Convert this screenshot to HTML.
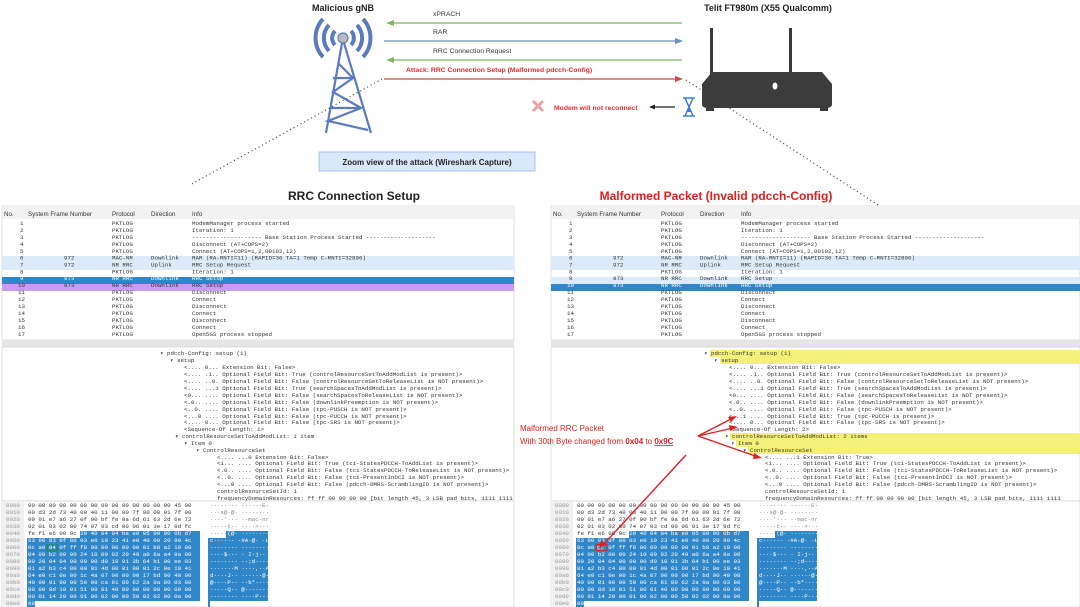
<!DOCTYPE html>
<html><head><meta charset="utf-8"><style>
html,body{margin:0;padding:0;background:#fff;width:1080px;height:607px;overflow:hidden}
svg{display:block}
.m{font-family:"Liberation Mono",monospace;font-size:5.8px;fill:#333}
.s{font-family:"Liberation Sans",sans-serif;font-size:6.2px;fill:#333}
</style></head><body>
<svg width="1080" height="607" viewBox="0 0 1080 607" xmlns="http://www.w3.org/2000/svg">
<defs>
<g id="hdr">
 <text class="s" x="4" y="216">No.</text>
 <text class="s" x="28" y="216">System Frame Number</text>
 <text class="s" x="112" y="216">Protocol</text>
 <text class="s" x="151" y="216">Direction</text>
 <text class="s" x="192" y="216">Info</text>
</g>
<g id="rows">
 <g class="m">
 <text x="20" y="225">1</text><text x="112" y="225">PKTLOG</text><text x="192" y="225">ModemManager process started</text>
 <text x="20" y="232">2</text><text x="112" y="232">PKTLOG</text><text x="192" y="232">Iteration: 1</text>
 <text x="20" y="239">3</text><text x="112" y="239">PKTLOG</text><text x="192" y="239">-------------------- Base Station Process Started --------------------</text>
 <text x="20" y="246">4</text><text x="112" y="246">PKTLOG</text><text x="192" y="246">Disconnect (AT+COPS=2)</text>
 <text x="20" y="253">5</text><text x="112" y="253">PKTLOG</text><text x="192" y="253">Connect (AT+COPS=1,2,00102,12)</text>
 <text x="20" y="259.5">6</text><text x="64" y="259.5">972</text><text x="112" y="259.5">MAC-NR</text><text x="151" y="259.5">Downlink</text><text x="192" y="259.5">RAR (RA-RNTI=11) (RAPID=36 TA=1 Temp C-RNTI=32896)</text>
 <text x="20" y="266.5">7</text><text x="64" y="266.5">972</text><text x="112" y="266.5">NR RRC</text><text x="151" y="266.5">Uplink</text><text x="192" y="266.5">RRC Setup Request</text>
 <text x="20" y="273.3">8</text><text x="112" y="273.3">PKTLOG</text><text x="192" y="273.3">Iteration: 1</text>
 <text x="18" y="294">11</text><text x="112" y="294">PKTLOG</text><text x="192" y="294">Disconnect</text>
 <text x="18" y="301">12</text><text x="112" y="301">PKTLOG</text><text x="192" y="301">Connect</text>
 <text x="18" y="308">13</text><text x="112" y="308">PKTLOG</text><text x="192" y="308">Disconnect</text>
 <text x="18" y="315">14</text><text x="112" y="315">PKTLOG</text><text x="192" y="315">Connect</text>
 <text x="18" y="322">15</text><text x="112" y="322">PKTLOG</text><text x="192" y="322">Disconnect</text>
 <text x="18" y="329">16</text><text x="112" y="329">PKTLOG</text><text x="192" y="329">Connect</text>
 <text x="18" y="336">17</text><text x="112" y="336">PKTLOG</text><text x="192" y="336">Open5GS process stopped</text>
 </g>
</g>
<g id="hex">
 <g class="m" style="fill:#999"><text x="6" y="507">0000</text><text x="6" y="514">0010</text><text x="6" y="521">0020</text><text x="6" y="528">0030</text><text x="6" y="535">0040</text><text x="6" y="542">0050</text><text x="6" y="549">0060</text><text x="6" y="556">0070</text><text x="6" y="563">0080</text><text x="6" y="570">0090</text><text x="6" y="577">00a0</text><text x="6" y="584">00b0</text><text x="6" y="591">00c0</text><text x="6" y="598">00d0</text><text x="6" y="605">00e0</text></g>
 <path d="M80 531 H200 V601 H35 V608 H27 V538 H80 Z" fill="#2f86c8"/>
 <path d="M226 531 H268 V601 H210 V608 H208 V538 H226 Z" fill="#2f86c8"/>
 <g class="m" xml:space="preserve">
 <text x="28" y="507">00 00 00 00 00 00 00 00  00 00 00 00 00 00 45 00</text>
 <text x="28" y="514">00 d3 2d 73 40 00 40 11  00 00 7f 00 00 01 7f 00</text>
 <text x="28" y="521">00 01 e7 a6 27 0f 00 bf  fe 9a 6d 61 63 2d 6e 72</text>
 <text x="28" y="528">02 01 03 02 00 74 07 03  cd 00 06 01 3e 17 9d fc</text>
 <text x="28" y="535">fe f1 e6 00 9c <tspan style="fill:#fff">20 40 04  04 ba e0 05 00 00 0b d7</tspan></text>
 </g>
 <g class="m" xml:space="preserve" style="fill:#fff">
 <text x="28" y="542">63 00 83 0f 80 03 e0 10  23 41 e0 40 00 20 90 4c</text>
 <text x="28" y="549">0c a0 04 0f ff f8 00 00  00 00 00 01 b8 a2 10 00</text>
 <text x="28" y="556">04 00 b2 00 00 24 10 00  02 20 49 a0 6a a4 9a 00</text>
 <text x="28" y="563">00 20 04 04 00 00 00 d0  10 01 3b 64 b1 00 ee 03</text>
 <text x="28" y="570">01 a2 b3 c4 80 00 01 4d  00 01 00 01 2c 0e 10 41</text>
 <text x="28" y="577">64 e0 c1 0e 00 1c 4a 07  00 00 00 17 bd 00 40 00</text>
 <text x="28" y="584">40 00 01 90 00 50 00 ca  81 80 62 2a 0a 80 03 80</text>
 <text x="28" y="591">00 00 8d 10 01 51 00 01  40 00 00 00 00 00 00 00</text>
 <text x="28" y="598">00 01 14 20 00 01 00 02  00 00 50 02 02 00 0a 90</text>
 <text x="28" y="605">00</text>
 <text x="210" y="542">c······ ·#A·@· ·L</text>
 <text x="210" y="549">········ ········</text>
 <text x="210" y="556">····$··· · I·j··</text>
 <text x="210" y="563">········ ··;d····</text>
 <text x="210" y="570">·······M ····,··A</text>
 <text x="210" y="577">d····J·· ······@·</text>
 <text x="210" y="584">@····P·· ··b*····</text>
 <text x="210" y="591">·····Q·· @·······</text>
 <text x="210" y="598">········ ····P···</text>
 </g>
 <g class="m" xml:space="preserve" style="fill:#888">
 <text x="210" y="507">········ ······E·</text>
 <text x="210" y="514">···s@·@· ········</text>
 <text x="210" y="521">····'··· ··mac-nr</text>
 <text x="210" y="528">·····t·· ····&gt;···</text>
 <text x="210" y="535">·····<tspan style="fill:#fff">(@· ········</tspan></text>
 </g>
</g>
</defs>

<!-- top diagram -->
<text x="343" y="11" text-anchor="middle" font-family="Liberation Sans" font-weight="bold" font-size="9" fill="#222">Malicious gNB</text>
<text x="768" y="11" text-anchor="middle" font-family="Liberation Sans" font-weight="bold" font-size="9" fill="#222">Telit FT980m (X55 Qualcomm)</text>
<g fill="none" stroke="#5b7bbd" stroke-width="4">
 <path d="M335 31 A10 10 0 0 0 335 45"/><path d="M351 31 A10 10 0 0 1 351 45"/>
 <path d="M329 25 A19 19 0 0 0 329 51"/><path d="M357 25 A19 19 0 0 1 357 51"/>
 <path d="M323 19 A28 28 0 0 0 323 57"/><path d="M363 19 A28 28 0 0 1 363 57"/>
</g>
<circle cx="343" cy="38" r="5" fill="#bbb" stroke="#5b7bbd" stroke-width="1.2"/>
<g fill="none" stroke="#5b7bbd" stroke-width="2.2">
 <path d="M342 43 L326 133 M344 43 L371 133"/>
 <path d="M338 63 L353 78 L333 92 L361 108 L328 121 L368 130"/>
 <path d="M353 78 L333 78 M361 108 L330 108"/>
</g>
<g>
 <rect x="710" y="28" width="3" height="46" fill="#3a3a3a"/>
 <rect x="789" y="28" width="3" height="46" fill="#3a3a3a"/>
 <path d="M712 72 H822 L832 84 V104 Q832 108 826 108 H708 Q702 108 702 104 V84 Z" fill="#3c3c3c"/>
 <rect x="706" y="106" width="8" height="5" fill="#3c3c3c"/><rect x="820" y="106" width="8" height="5" fill="#3c3c3c"/>
 <ellipse cx="775" cy="86" rx="2.5" ry="3.5" fill="#fff"/>
</g>
<g font-family="Liberation Sans" font-size="6.8" fill="#333">
 <text x="433" y="16">xPRACH</text><text x="433" y="34">RAR</text><text x="433" y="53">RRC Connection Request</text>
</g>
<text x="406" y="72" font-family="Liberation Sans" font-weight="bold" font-size="6.8" fill="#e03030">Attack: RRC Connection Setup (Malformed pdcch-Config)</text>
<g stroke-width="1.2">
 <line x1="390" y1="23" x2="682" y2="23" stroke="#82b366"/><path d="M386 23 L394 20 L394 26 Z" fill="#82b366"/>
 <line x1="384" y1="41" x2="678" y2="41" stroke="#6c8ebf"/><path d="M683 41 L675 38 L675 44 Z" fill="#6c8ebf"/>
 <line x1="390" y1="60" x2="682" y2="60" stroke="#82b366"/><path d="M386 60 L394 57 L394 63 Z" fill="#82b366"/>
 <line x1="384" y1="79" x2="678" y2="79" stroke="#c84b4b"/><path d="M683 79 L675 76 L675 82 Z" fill="#c84b4b"/>
</g>
<path d="M533 101 L543 111 M543 101 L533 111" stroke="#f0a0a0" stroke-width="3"/>
<text x="554" y="110" font-family="Liberation Sans" font-weight="bold" font-size="6.8" fill="#e03030">Modem will not reconnect</text>
<line x1="652" y1="107" x2="675" y2="107" stroke="#222" stroke-width="1.2"/><path d="M649 107 L655 104.5 L655 109.5 Z" fill="#222"/>
<g fill="none" stroke="#3b7bd8" stroke-width="1.5"><path d="M683 98 H695 M683 116 H695 M685 98 L693 116 M693 98 L685 116"/></g>
<path d="M686 112 L692 112 L689 107 Z" fill="#3b7bd8"/>
<rect x="319" y="152" width="216" height="19" fill="#dae8fc" stroke="#9fb6dc" stroke-width="0.8"/>
<text x="427" y="165" text-anchor="middle" font-family="Liberation Sans" font-weight="bold" font-size="8" fill="#222">Zoom view of the attack (Wireshark Capture)</text>
<g stroke="#444" stroke-width="1.2" stroke-dasharray="1 3">
 <line x1="382" y1="79" x2="190" y2="185"/>
 <line x1="686" y1="80" x2="878" y2="205"/>
</g>
<text x="354" y="200" text-anchor="middle" font-family="Liberation Sans" font-weight="bold" font-size="12" fill="#222">RRC Connection Setup</text>
<text x="716" y="200" text-anchor="middle" font-family="Liberation Sans" font-weight="bold" font-size="12" fill="#e02020">Malformed Packet (Invalid pdcch-Config)</text>

<!-- LEFT panel -->
<rect x="2" y="206" width="512" height="134" fill="#fff" stroke="#ccc" stroke-width="0.6"/>
<rect x="2" y="207" width="512" height="12" fill="#f2f2f2"/>
<rect x="2" y="340" width="512" height="7" fill="#e6e6e6"/>
<rect x="2" y="347" width="512" height="154" fill="#fff" stroke="#ccc" stroke-width="0.6"/>
<rect x="2" y="501" width="512" height="106" fill="#fff" stroke="#ccc" stroke-width="0.6"/>
<rect x="2" y="501" width="22" height="106" fill="#f0f0f0"/>
<use href="#hdr"/>
<rect x="2" y="256" width="512" height="14" fill="#dcebf9"/>
<rect x="2" y="277" width="512" height="7" fill="#2f86c8"/>
<rect x="2" y="284" width="512" height="7" fill="#c79cf2"/>
<use href="#rows"/>
<g class="m">
 <text x="20" y="280.2" style="fill:#fff">9</text><text x="64" y="280.2" style="fill:#fff">973</text><text x="112" y="280.2" style="fill:#fff">NR RRC</text><text x="151" y="280.2" style="fill:#fff">Downlink</text><text x="192" y="280.2" style="fill:#fff">RRC Setup</text>
 <text x="18" y="287.1">10</text><text x="64" y="287.1">973</text><text x="112" y="287.1">NR RRC</text><text x="151" y="287.1">Downlink</text><text x="192" y="287.1">RRC Setup</text>
</g>
<g class="m">
 <text x="160" y="355">▾ pdcch-Config: setup (1)</text>
 <text x="170" y="362">▾ setup</text>
 <text x="184" y="369">&lt;.... 0... Extension Bit: False&gt;</text>
 <text x="184" y="376">&lt;.... .1.. Optional Field Bit: True (controlResourceSetToAddModList is present)&gt;</text>
 <text x="184" y="383">&lt;.... ..0. Optional Field Bit: False (controlResourceSetToReleaseList is NOT present)&gt;</text>
 <text x="184" y="390">&lt;.... ...1 Optional Field Bit: True (searchSpacesToAddModList is present)&gt;</text>
 <text x="184" y="397">&lt;0... .... Optional Field Bit: False (searchSpacesToReleaseList is NOT present)&gt;</text>
 <text x="184" y="404">&lt;.0.. .... Optional Field Bit: False (downlinkPreemption is NOT present)&gt;</text>
 <text x="184" y="411">&lt;..0. .... Optional Field Bit: False (tpc-PUSCH is NOT present)&gt;</text>
 <text x="184" y="418">&lt;...0 .... Optional Field Bit: False (tpc-PUCCH is NOT present)&gt;</text>
 <text x="184" y="424">&lt;.... 0... Optional Field Bit: False (tpc-SRS is NOT present)&gt;</text>
 <text x="184" y="431">&lt;Sequence-Of Length: 1&gt;</text>
 <text x="175" y="438">▾ controlResourceSetToAddModList: 1 item</text>
 <text x="184" y="445">▾ Item 0</text>
 <text x="196" y="452">▾ ControlResourceSet</text>
 <text x="217" y="459">&lt;.... ...0 Extension Bit: False&gt;</text>
 <text x="217" y="465">&lt;1... .... Optional Field Bit: True (tci-StatesPDCCH-ToAddList is present)&gt;</text>
 <text x="217" y="472">&lt;.0.. .... Optional Field Bit: False (tci-StatesPDCCH-ToReleaseList is NOT present)&gt;</text>
 <text x="217" y="479">&lt;..0. .... Optional Field Bit: False (tci-PresentInDCI is NOT present)&gt;</text>
 <text x="217" y="486">&lt;...0 .... Optional Field Bit: False (pdcch-DMRS-ScramblingID is NOT present)&gt;</text>
 <text x="217" y="493">controlResourceSetId: 1</text>
 <text x="217" y="500">frequencyDomainResources: ff ff 00 00 00 00 [bit length 45, 3 LSB pad bits, 1111 1111</text>
</g>
<use href="#hex"/>
<rect x="47" y="545" width="10" height="6" fill="none" stroke="#1c8a2c" stroke-width="1"/>

<!-- RIGHT panel -->
<g transform="translate(549,0)">
 <rect x="2" y="206" width="529" height="134" fill="#fff" stroke="#ccc" stroke-width="0.6"/>
 <rect x="2" y="207" width="529" height="12" fill="#f2f2f2"/>
 <rect x="2" y="340" width="529" height="7" fill="#e6e6e6"/>
 <rect x="2" y="347" width="529" height="154" fill="#fff" stroke="#ccc" stroke-width="0.6"/>
 <rect x="2" y="501" width="529" height="106" fill="#fff" stroke="#ccc" stroke-width="0.6"/>
 <rect x="2" y="501" width="22" height="106" fill="#f0f0f0"/>
 <use href="#hdr"/>
 <rect x="2" y="256" width="529" height="14" fill="#dcebf9"/>
 <rect x="2" y="277" width="529" height="7" fill="#dcebf9"/>
 <rect x="2" y="284" width="529" height="7" fill="#2f86c8"/>
 <use href="#rows"/>
 <g class="m">
  <text x="20" y="280.2">9</text><text x="64" y="280.2">973</text><text x="112" y="280.2">NR RRC</text><text x="151" y="280.2">Downlink</text><text x="192" y="280.2">RRC Setup</text>
  <text x="18" y="287.1" style="fill:#fff">10</text><text x="64" y="287.1" style="fill:#fff">973</text><text x="112" y="287.1" style="fill:#fff">NR RRC</text><text x="151" y="287.1" style="fill:#fff">Downlink</text><text x="192" y="287.1" style="fill:#fff">RRC Setup</text>
 </g>
 <rect x="161" y="350" width="370" height="7" fill="#f5f07a"/>
 <rect x="171" y="357" width="360" height="7" fill="#f5f07a"/>
 <rect x="181" y="433" width="350" height="7" fill="#f5f07a"/>
 <rect x="187" y="440" width="344" height="7" fill="#f5f07a"/>
 <rect x="199" y="447" width="332" height="7" fill="#f5f07a"/>
 <g class="m">
 <text x="155" y="355">▾ pdcch-Config: setup (1)</text>
 <text x="165" y="362">▾ setup</text>
 <text x="180" y="369">&lt;.... 0... Extension Bit: False&gt;</text>
 <text x="180" y="376">&lt;.... .1.. Optional Field Bit: True (controlResourceSetToAddModList is present)&gt;</text>
 <text x="180" y="383">&lt;.... ..0. Optional Field Bit: False (controlResourceSetToReleaseList is NOT present)&gt;</text>
 <text x="180" y="390">&lt;.... ...1 Optional Field Bit: True (searchSpacesToAddModList is present)&gt;</text>
 <text x="180" y="397">&lt;0... .... Optional Field Bit: False (searchSpacesToReleaseList is NOT present)&gt;</text>
 <text x="180" y="404">&lt;.0.. .... Optional Field Bit: False (downlinkPreemption is NOT present)&gt;</text>
 <text x="180" y="411">&lt;..0. .... Optional Field Bit: False (tpc-PUSCH is NOT present)&gt;</text>
 <text x="180" y="418">&lt;...1 .... Optional Field Bit: True (tpc-PUCCH is present)&gt;</text>
 <text x="180" y="424">&lt;.... 0... Optional Field Bit: False (tpc-SRS is NOT present)&gt;</text>
 <text x="180" y="431">&lt;Sequence-Of Length: 2&gt;</text>
 <text x="176" y="438">▾ controlResourceSetToAddModList: 2 items</text>
 <text x="182" y="445">▾ Item 0</text>
 <text x="194" y="452">▾ ControlResourceSet</text>
 <text x="216" y="459">&lt;.... ...1 Extension Bit: True&gt;</text>
 <text x="216" y="465">&lt;1... .... Optional Field Bit: True (tci-StatesPDCCH-ToAddList is present)&gt;</text>
 <text x="216" y="472">&lt;.0.. .... Optional Field Bit: False (tci-StatesPDCCH-ToReleaseList is NOT present)&gt;</text>
 <text x="216" y="479">&lt;..0. .... Optional Field Bit: False (tci-PresentInDCI is NOT present)&gt;</text>
 <text x="216" y="486">&lt;...0 .... Optional Field Bit: False (pdcch-DMRS-ScramblingID is NOT present)&gt;</text>
 <text x="216" y="493">controlResourceSetId: 1</text>
 <text x="216" y="500">frequencyDomainResources: ff ff 00 00 00 00 [bit length 45, 3 LSB pad bits, 1111 1111</text>
 </g>
 <use href="#hex"/>
 <rect x="47" y="544.5" width="11" height="6" fill="#2f86c8" stroke="#e02020" stroke-width="1"/>
 <text x="48" y="549.5" class="m" style="fill:#fff">9c</text>
</g>

<!-- annotation -->
<text x="520" y="431" font-family="Liberation Sans" font-size="8" fill="#e02020">Malformed RRC Packet</text>
<text x="520" y="444" font-family="Liberation Sans" font-size="8" fill="#e02020">With 30th Byte changed from <tspan font-weight="bold">0x04</tspan> to <tspan font-weight="bold" text-decoration="underline">0x9C</tspan></text>
<g stroke="#e02020" stroke-width="1.4" fill="none">
 <path d="M698 436 L733 418"/><path d="M698 436 L733 428"/><path d="M698 436 L758 457"/>
 <path d="M686 455 L602 546"/>
</g>
<g fill="#e02020">
 <path d="M737 416 L728 417 L731 422 Z"/>
 <path d="M738 427 L729 425 L730 431 Z"/>
 <path d="M762 458 L754 453 L753 459 Z"/>
 <path d="M599 549 L601 540 L606 544 Z"/>
</g>
</svg>
</body></html>
